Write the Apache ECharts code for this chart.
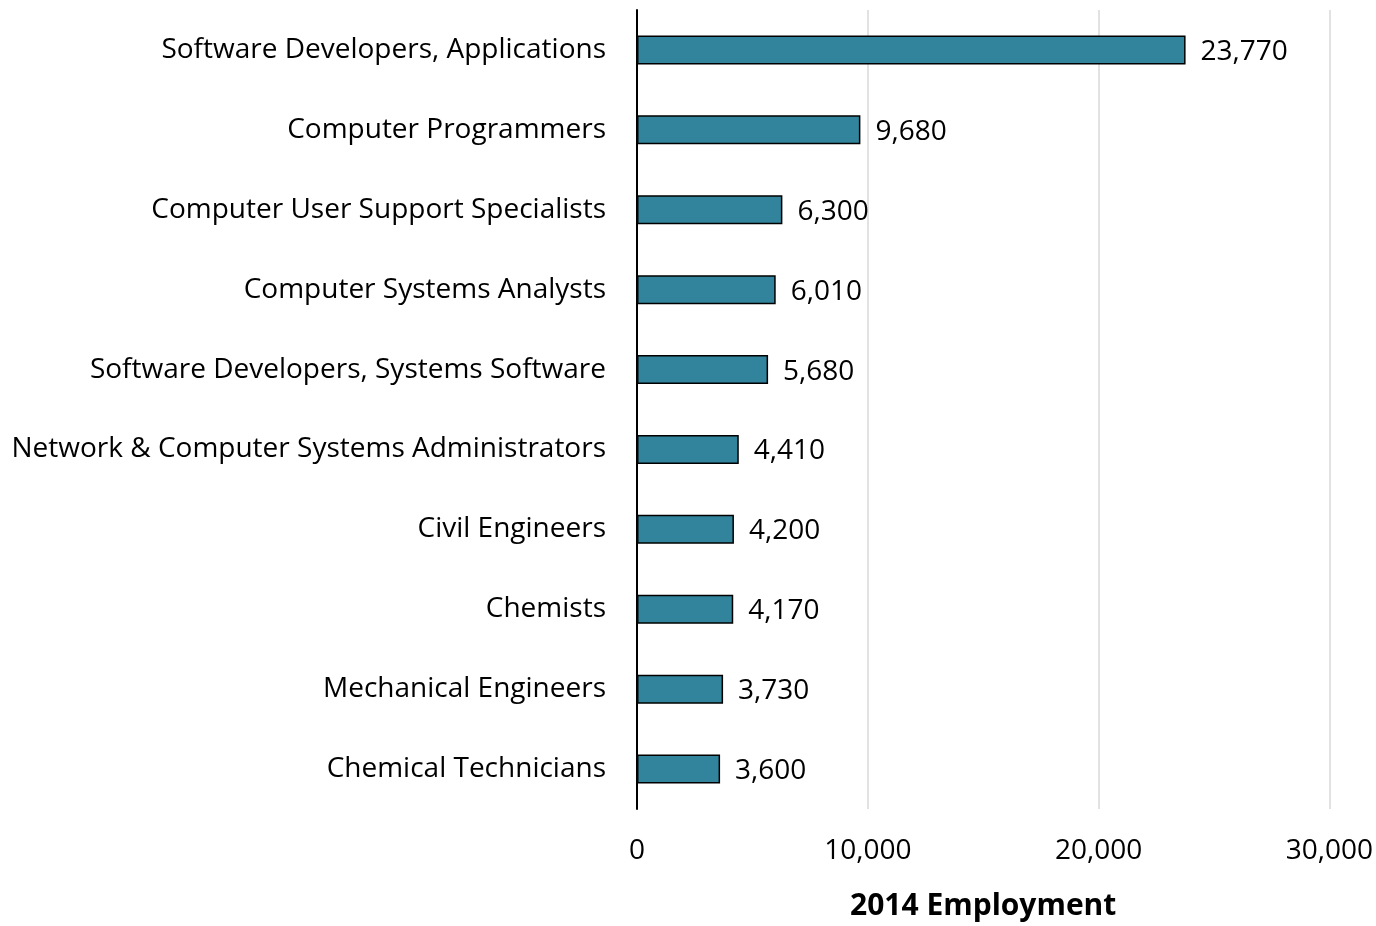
<!DOCTYPE html>
<html><head><meta charset="utf-8">
<script src="https://cdn.jsdelivr.net/npm/echarts@6/dist/echarts.min.js"></script>
<style>html,body{margin:0;padding:0;background:#fff}#c{width:1376px;height:926px}</style>
</head><body><div id="c"></div>
<script>
const categories = ["Software Developers, Applications","Computer Programmers","Computer User Support Specialists","Computer Systems Analysts","Software Developers, Systems Software","Network & Computer Systems Administrators","Civil Engineers","Chemists","Mechanical Engineers","Chemical Technicians"];
const values = [23770,9680,6300,6010,5680,4410,4200,4170,3730,3600];
const xTicks = [0,10000,20000,30000];
const axisTitle = "2014 Employment";
const FONT = "'Open Sans', sans-serif";
const chart = echarts.init(document.getElementById('c'));
chart.setOption({
  animation:false,
  grid:{left:637,right:46,top:10,bottom:108,containLabel:false},
  xAxis:{type:'value',min:xTicks[0],max:xTicks[xTicks.length-1],interval:10000,
    axisLine:{show:false},axisTick:{show:false},
    splitLine:{show:true,lineStyle:{color:'#d9d9d9',width:1.5}},
    axisLabel:{fontFamily:FONT,fontSize:28,color:'#000',margin:28,
      formatter:v=>v.toLocaleString('en-US')},
    name:axisTitle,nameLocation:'middle',nameGap:82,
    nameTextStyle:{fontFamily:FONT,fontSize:30,fontWeight:'bold',color:'#000'}},
  yAxis:{type:'category',data:categories,inverse:true,
    axisLine:{show:true,lineStyle:{color:'#000',width:2}},axisTick:{show:false},
    axisLabel:{fontFamily:FONT,fontSize:28,color:'#000',margin:31}},
  series:[{type:'bar',data:values,barWidth:29,
    itemStyle:{color:'#31849B',borderColor:'#000',borderWidth:1.5},
    label:{show:true,position:'right',distance:15,fontFamily:FONT,fontSize:28,color:'#000',
      offset:[0,2],
      formatter:p=>p.value.toLocaleString('en-US')}}]
});
</script></body></html>
